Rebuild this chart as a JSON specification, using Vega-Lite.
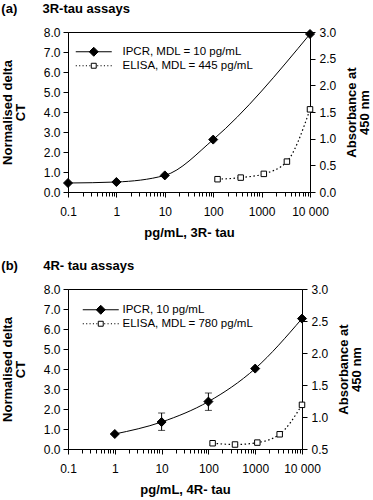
{
  "$schema": "https://vega.github.io/schema/vega-lite/v6.json",
  "background": "white",
  "padding": {"left": 0, "top": 2, "right": 0, "bottom": 0},
  "config": {
    "font": "Liberation Sans",
    "view": {"stroke": "black", "strokeWidth": 1},
    "axis": {"labelFont": "Liberation Sans", "labelFontSize": 12, "labelColor": "black", "tickColor": "black", "domainColor": "black", "titleFont": "Liberation Sans", "titleFontSize": 13, "titleFontWeight": "bold", "titleColor": "black", "grid": false, "titleLineHeight": 13},
    "legend": {"labelFont": "Liberation Sans", "labelFontSize": 11.5, "labelColor": "black", "labelLimit": 300, "padding": 0},
    "title": {"font": "Liberation Sans", "fontSize": 13, "fontWeight": "bold", "color": "black", "anchor": "start", "frame": "bounds"}
  },
  "datasets": {
    "ipcrA": [
      {"x": 0.1, "y": 0.45, "series": "IPCR, MDL = 10 pg/mL"},
      {"x": 1, "y": 0.5, "series": "IPCR, MDL = 10 pg/mL"},
      {"x": 10, "y": 0.83, "series": "IPCR, MDL = 10 pg/mL"},
      {"x": 100, "y": 2.62, "series": "IPCR, MDL = 10 pg/mL"},
      {"x": 10000, "y": 7.9, "series": "IPCR, MDL = 10 pg/mL"}
    ],
    "elisaA": [
      {"x": 123, "y": 0.24, "series": "ELISA, MDL = 445 pg/mL"},
      {"x": 370, "y": 0.27, "series": "ELISA, MDL = 445 pg/mL"},
      {"x": 1111, "y": 0.34, "series": "ELISA, MDL = 445 pg/mL"},
      {"x": 3333, "y": 0.57, "series": "ELISA, MDL = 445 pg/mL"},
      {"x": 10000, "y": 1.55, "series": "ELISA, MDL = 445 pg/mL"}
    ],
    "ipcrB": [
      {"x": 1, "y": 0.75, "series": "IPCR, 10 pg/mL"},
      {"x": 10, "y": 1.35, "series": "IPCR, 10 pg/mL"},
      {"x": 100, "y": 2.37, "series": "IPCR, 10 pg/mL"},
      {"x": 1000, "y": 4.02, "series": "IPCR, 10 pg/mL"},
      {"x": 10000, "y": 6.52, "series": "IPCR, 10 pg/mL"}
    ],
    "errB": [
      {"x": 10, "lo": 0.93, "hi": 1.8},
      {"x": 100, "lo": 1.93, "hi": 2.8}
    ],
    "elisaB": [
      {"x": 123, "y": 0.59, "series": "ELISA, MDL = 780 pg/mL"},
      {"x": 370, "y": 0.57, "series": "ELISA, MDL = 780 pg/mL"},
      {"x": 1111, "y": 0.6, "series": "ELISA, MDL = 780 pg/mL"},
      {"x": 3333, "y": 0.73, "series": "ELISA, MDL = 780 pg/mL"},
      {"x": 10000, "y": 1.19, "series": "ELISA, MDL = 780 pg/mL"}
    ]
  },
  "resolve": {"scale": {"fill": "independent", "stroke": "independent"}, "legend": {"fill": "independent", "stroke": "independent"}},
  "spacing": 19,
  "vconcat": [
    {
      "title": {"text": "(a)\u00a0\u00a0\u00a0\u00a0\u00a0\u00a0\u00a03R-tau assays", "offset": 10},
      "width": 242,
      "height": 160,
      "layer": [
        {
          "data": {"name": "ipcrA"},
          "encoding": {
            "x": {"field": "x", "type": "quantitative", "scale": {"type": "log", "domain": [0.1, 10000], "nice": false},
              "axis": {"title": "pg/mL, 3R- tau", "titlePadding": 9,
                "values": [0.1,0.2,0.3,0.4,0.5,0.6,0.7,0.8,0.9,1,2,3,4,5,6,7,8,9,10,20,30,40,50,60,70,80,90,100,200,300,400,500,600,700,800,900,1000,2000,3000,4000,5000,6000,7000,8000,9000,10000],
                "labelExpr": "abs(log(datum.value)/LN10 - round(log(datum.value)/LN10)) < 0.000001 ? (datum.value < 0.5 ? '0.1' : (datum.value > 5000 ? '10 000' : format(datum.value, 'd'))) : ''",
                "labelOverlap": false, "labelFlush": false, "labelBound": false, "labelPadding": 9,
                "tickSize": {"condition": {"test": "abs(log(datum.value)/LN10 - round(log(datum.value)/LN10)) < 0.000001", "value": 5}, "value": 4}}},
            "y": {"field": "y", "type": "quantitative", "scale": {"domain": [0, 8], "nice": false},
              "axis": {"title": ["Normalised delta", "CT"], "values": [0,1,2,3,4,5,6,7,8], "format": ".1f", "tickSize": 5, "labelPadding": 3, "titlePadding": 16}}
          },
          "layer": [
            {"mark": {"type": "line", "interpolate": "monotone", "color": "black", "strokeWidth": 1}},
            {"mark": {"type": "point", "shape": "diamond", "filled": true, "stroke": "black", "strokeWidth": 1, "size": 81, "opacity": 1},
              "encoding": {
                "fill": {"field": "series", "type": "nominal", "scale": {"domain": ["IPCR, MDL = 10 pg/mL"], "range": ["black"]},
                  "legend": {"title": null, "orient": "none", "legendX": 4, "legendY": 14, "symbolOffset": 16, "labelOffset": 23, "symbolSize": 81, "symbolStrokeColor": "black", "symbolStrokeWidth": 1,
                    "symbolType": "M-4,0H4M0,-1L1,0L0,1L-1,0Z"}}
              }}
          ]
        },
        {
          "data": {"name": "elisaA"},
          "encoding": {
            "x": {"field": "x", "type": "quantitative", "scale": {"type": "log", "domain": [0.1, 10000], "nice": false}},
            "y": {"field": "y", "type": "quantitative", "scale": {"domain": [0, 3], "nice": false},
              "axis": {"orient": "right", "title": ["Absorbance at", "450 nm"], "titleAngle": 270, "values": [0,0.5,1,1.5,2,2.5,3], "format": ".1f", "tickSize": 5, "labelPadding": 4, "titlePadding": 10}}
          },
          "layer": [
            {"mark": {"type": "line", "interpolate": "monotone", "color": "black", "strokeWidth": 1.2, "strokeDash": [1.5, 2.5]}},
            {"mark": {"type": "point", "shape": "square", "filled": true, "fill": "white", "strokeWidth": 1, "size": 30, "opacity": 1},
              "encoding": {
                "stroke": {"field": "series", "type": "nominal", "scale": {"domain": ["ELISA, MDL = 445 pg/mL"], "range": ["black"]},
                  "legend": {"title": null, "orient": "none", "legendX": 4, "legendY": 28, "symbolOffset": 16, "labelOffset": 23, "symbolSize": 81, "symbolFillColor": "white", "symbolStrokeWidth": 1,
                    "symbolType": "M-4,0H-3.75M-3.25,0H-3M-2.5,0H-2.25M-1.75,0H-1.5M-1,0H-0.75M0.75,0H1M1.5,0H1.75M2.25,0H2.5M3,0H3.25M3.75,0H4M-0.55,-0.55H0.55V0.55H-0.55Z"}}
              }}
          ]
        }
      ],
      "resolve": {"scale": {"y": "independent"}}
    },
    {
      "title": {"text": "(b)\u00a0\u00a0\u00a0\u00a0\u00a0\u00a0\u00a04R- tau assays", "offset": 10},
      "width": 234,
      "height": 160,
      "layer": [
        {
          "encoding": {
            "x": {"field": "x", "type": "quantitative", "scale": {"type": "log", "domain": [0.1, 10000], "nice": false},
              "axis": {"title": "pg/mL, 4R- tau", "titlePadding": 9,
                "values": [0.1,0.2,0.3,0.4,0.5,0.6,0.7,0.8,0.9,1,2,3,4,5,6,7,8,9,10,20,30,40,50,60,70,80,90,100,200,300,400,500,600,700,800,900,1000,2000,3000,4000,5000,6000,7000,8000,9000,10000],
                "labelExpr": "abs(log(datum.value)/LN10 - round(log(datum.value)/LN10)) < 0.000001 ? (datum.value < 0.5 ? '0.1' : (datum.value > 5000 ? '10 000' : format(datum.value, 'd'))) : ''",
                "labelOverlap": false, "labelFlush": false, "labelBound": false, "labelPadding": 9,
                "tickSize": {"condition": {"test": "abs(log(datum.value)/LN10 - round(log(datum.value)/LN10)) < 0.000001", "value": 5}, "value": 4}}},
            "y": {"field": "y", "type": "quantitative", "scale": {"domain": [0, 8], "nice": false},
              "axis": {"title": ["Normalised delta", "CT"], "values": [0,1,2,3,4,5,6,7,8], "format": ".1f", "tickSize": 5, "labelPadding": 3, "titlePadding": 16}}
          },
          "layer": [
            {"data": {"name": "errB"}, "mark": {"type": "errorbar", "ticks": {"size": 7}, "color": "black"},
              "encoding": {"y": {"field": "lo", "type": "quantitative", "title": null}, "y2": {"field": "hi"}}},
            {"data": {"name": "ipcrB"}, "mark": {"type": "line", "interpolate": "monotone", "color": "black", "strokeWidth": 1}},
            {"data": {"name": "ipcrB"}, "mark": {"type": "point", "shape": "diamond", "filled": true, "stroke": "black", "strokeWidth": 1, "size": 81, "opacity": 1},
              "encoding": {
                "fill": {"field": "series", "type": "nominal", "scale": {"domain": ["IPCR, 10 pg/mL"], "range": ["black"]},
                  "legend": {"title": null, "orient": "none", "legendX": 11, "legendY": 15, "symbolOffset": 16, "labelOffset": 16, "symbolSize": 81, "symbolStrokeColor": "black", "symbolStrokeWidth": 1,
                    "symbolType": "M-4,0H4M0,-1L1,0L0,1L-1,0Z"}}
              }}
          ]
        },
        {
          "data": {"name": "elisaB"},
          "encoding": {
            "x": {"field": "x", "type": "quantitative", "scale": {"type": "log", "domain": [0.1, 10000], "nice": false}},
            "y": {"field": "y", "type": "quantitative", "scale": {"domain": [0.5, 3], "nice": false, "zero": false},
              "axis": {"orient": "right", "title": ["Absorbance at", "450 nm"], "titleAngle": 270, "values": [0.5,1,1.5,2,2.5,3], "format": ".1f", "tickSize": 5, "labelPadding": 4, "titlePadding": 10}}
          },
          "layer": [
            {"mark": {"type": "line", "interpolate": "monotone", "color": "black", "strokeWidth": 1.2, "strokeDash": [1.5, 2.5]}},
            {"mark": {"type": "point", "shape": "square", "filled": true, "fill": "white", "strokeWidth": 1, "size": 30, "opacity": 1},
              "encoding": {
                "stroke": {"field": "series", "type": "nominal", "scale": {"domain": ["ELISA, MDL = 780 pg/mL"], "range": ["black"]},
                  "legend": {"title": null, "orient": "none", "legendX": 11, "legendY": 29, "symbolOffset": 16, "labelOffset": 16, "symbolSize": 81, "symbolFillColor": "white", "symbolStrokeWidth": 1,
                    "symbolType": "M-4,0H-3.75M-3.25,0H-3M-2.5,0H-2.25M-1.75,0H-1.5M-1,0H-0.75M0.75,0H1M1.5,0H1.75M2.25,0H2.5M3,0H3.25M3.75,0H4M-0.55,-0.55H0.55V0.55H-0.55Z"}}
              }}
          ]
        }
      ],
      "resolve": {"scale": {"y": "independent"}}
    }
  ]
}
